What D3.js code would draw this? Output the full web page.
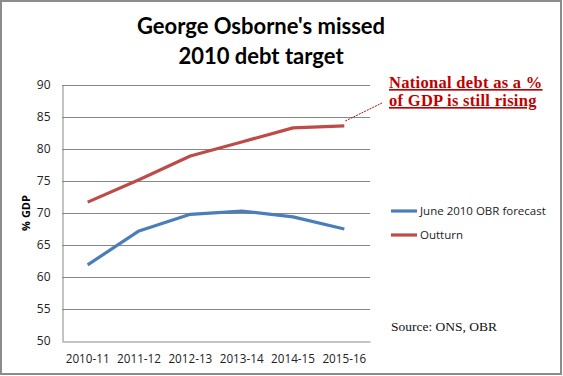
<!DOCTYPE html>
<html>
<head>
<meta charset="utf-8">
<script src="https://cdn.jsdelivr.net/npm/d3@7"></script>
<style>
  body { margin: 0; background: #fff; }
  svg { display: block; }
</style>
</head>
<body>
<div id="chart"></div>
<script>
const years = ['2010-11', '2011-12', '2012-13', '2013-14', '2014-15', '2015-16']
const forecast = [61.9, 67.2, 69.8, 70.3, 69.4, 67.5]
const outturn = [71.7, 75.2, 78.9, 81.1, 83.3, 83.6]
const yTicks = [50, 55, 60, 65, 70, 75, 80, 85, 90]
const seriesNames = ['June 2010 OBR forecast', 'Outturn']
const seriesColors = ['#4a7ebb', '#be4b48']

const width = 563
const height = 376
const margin = { top: 85, right: 193, bottom: 35, left: 62 }

const svg = d3.select('#chart').append('svg')
  .attr('width', width)
  .attr('height', height)

// outer frame
svg.append('rect')
  .attr('x', 1).attr('y', 1)
  .attr('width', width - 3).attr('height', height - 3)
  .attr('fill', 'none')
  .attr('stroke', '#8c8c8c')
  .attr('stroke-width', 2)

const x = d3.scaleBand()
  .domain(years)
  .range([margin.left, width - margin.right])

const y = d3.scaleLinear()
  .domain([50, 90])
  .range([height - margin.bottom, margin.top])

// gridlines
svg.append('g')
  .selectAll('line')
  .data(yTicks.filter(d => d > 50))
  .join('line')
  .attr('x1', margin.left)
  .attr('x2', width - margin.right)
  .attr('y1', d => Math.round(y(d)) + 0.5)
  .attr('y2', d => Math.round(y(d)) + 0.5)
  .attr('stroke', '#878787')

// axes
const yAxis = svg.append('g')
  .attr('transform', `translate(${margin.left + 0.5},0)`)
  .call(d3.axisLeft(y).tickValues(yTicks).tickSize(0).tickPadding(12))
yAxis.select('.domain').attr('stroke', '#878787')
yAxis.selectAll('text')
  .attr('font-family', 'Open Sans, sans-serif')
  .attr('font-size', 12)
  .attr('fill', '#222')

const xAxis = svg.append('g')
  .attr('transform', `translate(0,${Math.round(y(50)) + 0.5})`)
  .call(d3.axisBottom(x).tickSize(0).tickPadding(13))
xAxis.select('.domain').attr('stroke', '#878787')
xAxis.selectAll('text')
  .attr('font-family', 'Open Sans, sans-serif')
  .attr('font-size', 11.7)
  .attr('fill', '#222')

svg.append('text')
  .attr('transform', `translate(30,${y(70)}) rotate(-90)`)
  .attr('text-anchor', 'middle')
  .attr('font-family', 'Open Sans, sans-serif')
  .attr('font-weight', 'bold')
  .attr('font-size', 11)
  .text('% GDP')

// lines
const line = d3.line()
  .x((d, i) => x(years[i]) + x.bandwidth() / 2)
  .y(d => y(d))

svg.selectAll('.series')
  .data([forecast, outturn])
  .join('path')
  .attr('class', 'series')
  .attr('fill', 'none')
  .attr('stroke', (d, i) => seriesColors[i])
  .attr('stroke-width', 3.2)
  .attr('stroke-linejoin', 'round')
  .attr('d', line)

// title
const title = svg.append('text')
  .attr('text-anchor', 'middle')
  .attr('font-family', 'Lato, sans-serif')
  .attr('font-weight', 'bold')
  .attr('font-size', 22)
  .attr('fill', '#000')
title.append('tspan').attr('x', 261).attr('y', 34).text("George Osborne's missed")
title.append('tspan').attr('x', 261).attr('y', 64).text('2010 debt target')

// legend
const legend = svg.append('g')
  .selectAll('g')
  .data(seriesNames)
  .join('g')
  .attr('transform', (d, i) => `translate(391,${211 + i * 24})`)
legend.append('line')
  .attr('x1', 0).attr('x2', 26)
  .attr('stroke', (d, i) => seriesColors[i])
  .attr('stroke-width', 3.2)
legend.append('text')
  .attr('x', 29)
  .attr('y', 4)
  .attr('font-family', 'Open Sans, sans-serif')
  .attr('font-size', 11.5)
  .attr('fill', '#222')
  .text(d => d)

// source
svg.append('text')
  .attr('x', 391)
  .attr('y', 331)
  .attr('font-family', 'Liberation Serif, serif')
  .attr('font-size', 13.5)
  .attr('fill', '#111')
  .text('Source: ONS, OBR')

// annotation
const last = outturn.length - 1
const lx = x(years[last]) + x.bandwidth() / 2
svg.append('line')
  .attr('x1', lx + 1).attr('y1', y(outturn[last]) - 5)
  .attr('x2', 382).attr('y2', 103)
  .attr('stroke', '#a11')
  .attr('stroke-width', 1)
  .attr('stroke-dasharray', '2,1')

const note = svg.append('text')
  .attr('font-family', 'Liberation Serif, serif')
  .attr('font-weight', 'bold')
  .attr('font-size', 16.5)
  .attr('letter-spacing', 0.3)
  .attr('fill', '#c00000')
  .attr('text-decoration', 'underline')
note.append('tspan').attr('x', 389).attr('y', 88).text('National debt as a %')
note.append('tspan').attr('x', 389).attr('y', 106).text('of GDP is still rising')
</script>
</body>
</html>
